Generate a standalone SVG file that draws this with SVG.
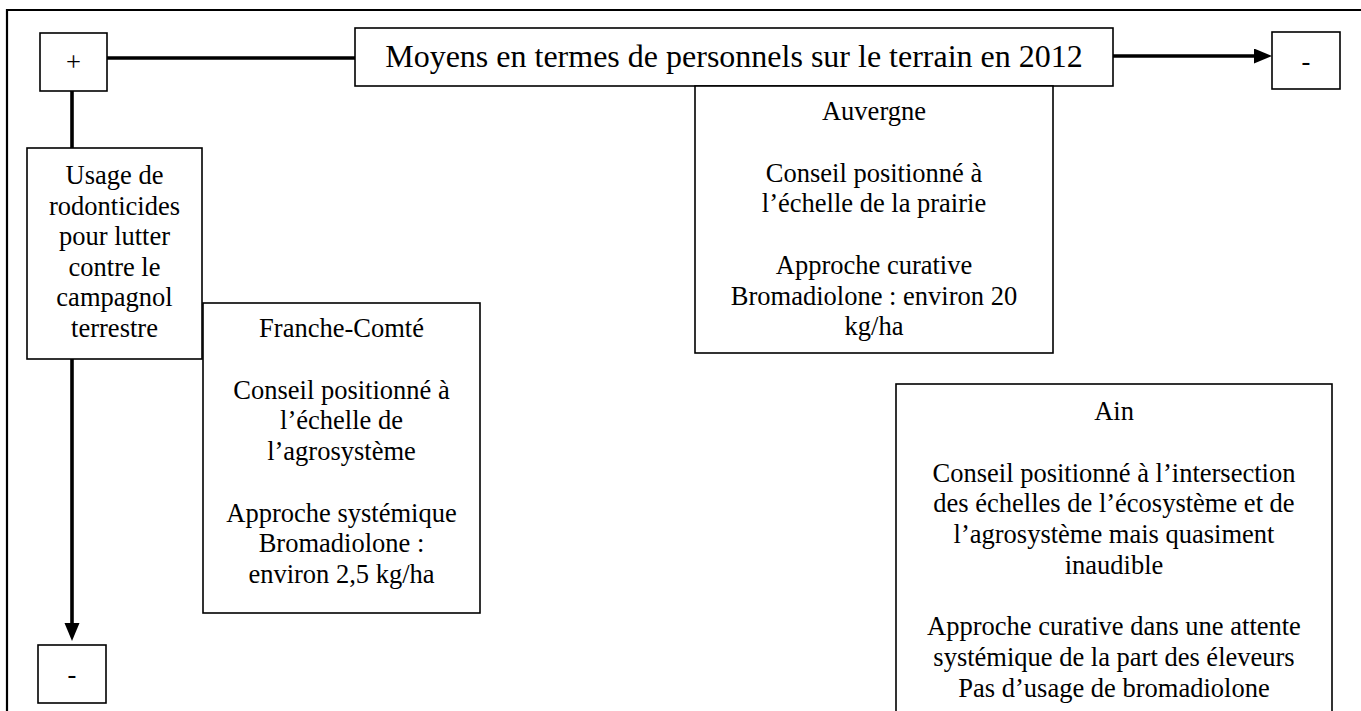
<svg xmlns="http://www.w3.org/2000/svg" width="1361" height="711" viewBox="0 0 1361 711">
<style>
.box{fill:#fff;stroke:#000;stroke-width:1.6}
.t{font-family:"Liberation Serif","Times New Roman",serif;font-size:26.5px;fill:#000;text-anchor:middle}
.big{font-size:32px}
.con{stroke:#000;stroke-width:3.6;fill:none}
</style>
<defs>
<marker id="arr" markerWidth="18" markerHeight="16" refX="8" refY="7.5" orient="auto" markerUnits="userSpaceOnUse">
<path d="M0,0 L18,7.5 L0,15 Z" fill="#000"/>
</marker>
</defs>
<rect width="1361" height="711" fill="#fff"/>
<g id="frame">
<path d="M7,730 L7,10 L1370,10" fill="none" stroke="#000" stroke-width="2.2"/>
</g>
<g id="connectors">
<line class="con" x1="107" y1="58" x2="355" y2="58"/>
<line class="con" x1="1113" y1="56" x2="1262" y2="56" marker-end="url(#arr)"/>
<line class="con" x1="72" y1="91" x2="72" y2="148"/>
<line class="con" x1="72" y1="359" x2="72" y2="631" marker-end="url(#arr)"/>
</g>
<g id="plus">
<rect class="box" x="40" y="33" width="67" height="58"/>
<text class="t" x="73.5" y="71">+</text>
</g>
<g id="moyens">
<rect class="box" x="355" y="28" width="758" height="58"/>
<text class="t big" x="734" y="67">Moyens en termes de personnels sur le terrain en 2012</text>
</g>
<g id="minus-right">
<rect class="box" x="1272" y="32" width="68" height="57"/>
<text class="t" x="1306" y="70">-</text>
</g>
<g id="usage">
<rect class="box" x="27" y="148" width="175" height="211"/>
<text class="t" x="114.5" y="184">Usage de</text>
<text class="t" x="114.5" y="214.5">rodonticides</text>
<text class="t" x="114.5" y="245">pour lutter</text>
<text class="t" x="114.5" y="275.5">contre le</text>
<text class="t" x="114.5" y="306">campagnol</text>
<text class="t" x="114.5" y="336.5">terrestre</text>
</g>
<g id="minus-bottom">
<rect class="box" x="38" y="645" width="68" height="58"/>
<text class="t" x="72" y="683">-</text>
</g>
<g id="franche-comte">
<rect class="box" x="203" y="303" width="277" height="310"/>
<text class="t" x="341.5" y="337">Franche-Comté</text>
<text class="t" x="341.5" y="398.5">Conseil positionné à</text>
<text class="t" x="341.5" y="429.25">l’échelle de</text>
<text class="t" x="341.5" y="460">l’agrosystème</text>
<text class="t" x="341.5" y="521.5">Approche systémique</text>
<text class="t" x="341.5" y="552.25">Bromadiolone :</text>
<text class="t" x="341.5" y="583">environ 2,5 kg/ha</text>
</g>
<g id="auvergne">
<rect class="box" x="695" y="86" width="358" height="267"/>
<text class="t" x="874" y="120">Auvergne</text>
<text class="t" x="874" y="181.5">Conseil positionné à</text>
<text class="t" x="874" y="212.25">l’échelle de la prairie</text>
<text class="t" x="874" y="273.75">Approche curative</text>
<text class="t" x="874" y="304.5">Bromadiolone : environ 20</text>
<text class="t" x="874" y="335.25">kg/ha</text>
</g>
<g id="ain">
<rect class="box" x="896" y="384" width="436" height="340"/>
<text class="t" x="1114" y="420">Ain</text>
<text class="t" x="1114" y="481.5">Conseil positionné à l’intersection</text>
<text class="t" x="1114" y="512.25">des échelles de l’écosystème et de</text>
<text class="t" x="1114" y="543">l’agrosystème mais quasiment</text>
<text class="t" x="1114" y="573.75">inaudible</text>
<text class="t" x="1114" y="635.25">Approche curative dans une attente</text>
<text class="t" x="1114" y="666">systémique de la part des éleveurs</text>
<text class="t" x="1114" y="696.75">Pas d’usage de bromadiolone</text>
</g>
</svg>
